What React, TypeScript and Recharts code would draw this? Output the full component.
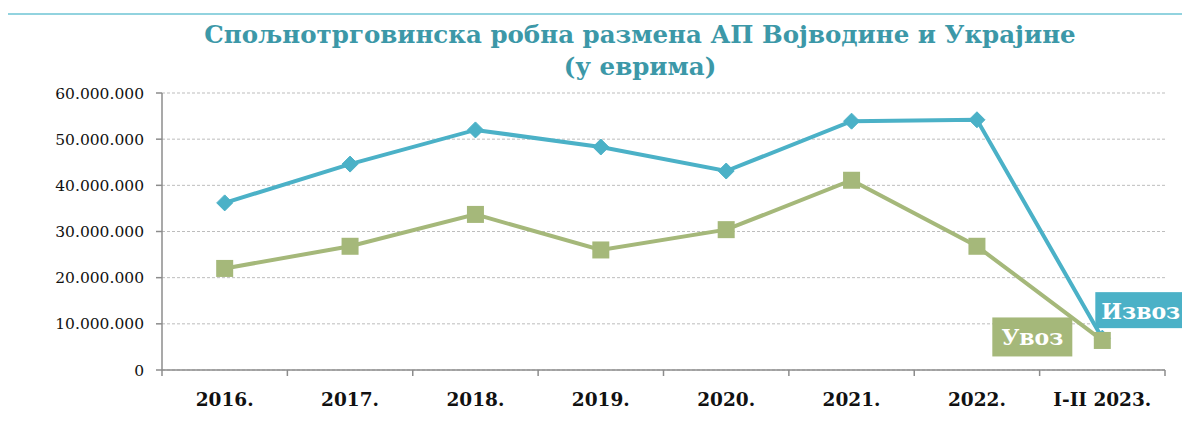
import React from "react";
import { ComposedChart, Line, XAxis, YAxis, CartesianGrid, LabelList } from "recharts";

const categories = ["2016.", "2017.", "2018.", "2019.", "2020.", "2021.", "2022.", "I-II 2023."];
const izvoz = [36200000, 44600000, 52000000, 48300000, 43100000, 53900000, 54200000, 6900000];
const uvoz = [22000000, 26800000, 33700000, 26000000, 30400000, 41100000, 26800000, 6400000];
const yTicks = [0, 10000000, 20000000, 30000000, 40000000, 50000000, 60000000];
const titleLine1 = "Спољнотрговинска робна размена АП Војводине и Украјине";
const titleLine2 = "(у еврима)";
const izvozName = "Извоз";
const uvozName = "Увоз";

const data = categories.map((c, i) => ({ cat: c, izvoz: izvoz[i], uvoz: uvoz[i] }));

const BLUE = "#4BB1C7";
const GREEN = "#A5B87A";
const FONT = "'DejaVu Serif', 'Liberation Serif', serif";

function fmt(v: number): string {
  return String(Math.round(v)).replace(/\B(?=(\d{3})+(?!\d))/g, ".");
}

const Diamond = (props: any) => {
  const { cx, cy } = props;
  if (cx == null || cy == null) return null;
  const r = 8;
  return <path d={`M${cx},${cy - r}L${cx + r},${cy}L${cx},${cy + r}L${cx - r},${cy}Z`} fill={BLUE} stroke={BLUE} strokeWidth={1} />;
};

const Square = (props: any) => {
  const { cx, cy } = props;
  if (cx == null || cy == null) return null;
  const s = 17;
  return <rect x={cx - s / 2} y={cy - s / 2} width={s} height={s} fill={GREEN} />;
};

const XTick = (props: any) => {
  const { x, y, payload, index, visibleTicksCount } = props;
  const half = payload && payload.offset ? payload.offset : 62.7;
  const last = index === (visibleTicksCount ?? categories.length) - 1;
  return (
    <g>
      <line x1={x - half} x2={x - half} y1={y - 8} y2={y - 2} stroke="#8C8C8C" strokeWidth={1.5} />
      {last && <line x1={x + half} x2={x + half} y1={y - 8} y2={y - 2} stroke="#8C8C8C" strokeWidth={1.5} />}
      <text x={x} y={y + 28} textAnchor="middle" fontFamily={FONT} fontWeight="bold" fontSize={18.5} fill="#111">
        {payload.value}
      </text>
    </g>
  );
};

const makeLabel = (kind: "izvoz" | "uvoz") => (props: any) => {
  const { x, y, index } = props;
  if (index !== categories.length - 1) return null;
  if (kind === "izvoz") {
    const bx = x - 7;
    const by = y - 46;
    return (
      <g>
        <rect x={bx} y={by} width={100} height={36} fill={BLUE} />
        <text x={bx + 6} y={by + 27} fontFamily={FONT} fontWeight="bold" fontSize={22} fill="#fff">{izvozName}</text>
      </g>
    );
  }
  const bx = x - 110;
  const by = y - 23;
  return (
    <g>
      <rect x={bx} y={by} width={80} height={39} fill={GREEN} />
      <text x={bx + 40} y={by + 28} textAnchor="middle" fontFamily={FONT} fontWeight="bold" fontSize={22} fill="#fff">{uvozName}</text>
    </g>
  );
};

export default function App() {
  return (
    <div style={{ position: "absolute", left: 0, top: 0, width: 1182, height: 424, background: "#fff", overflow: "hidden" }}>
      <div style={{ position: "absolute", left: 8, top: 13, width: 1174, height: 2, background: "#92D3DF" }} />
      <div
        style={{
          position: "absolute",
          left: 0,
          top: 19,
          width: 1280,
          textAlign: "center",
          fontFamily: FONT,
          fontWeight: "bold",
          fontSize: 24.5,
          lineHeight: "32px",
          color: "#3C98A8",
        }}
      >
        <div>{titleLine1}</div>
        <div>{titleLine2}</div>
      </div>
      <div style={{ position: "absolute", left: 0, top: 0 }}>
        <ComposedChart width={1182} height={424} data={data} margin={{ top: 93, right: 17, bottom: 0, left: 0 }}>
          <CartesianGrid vertical={false} stroke="#BDBDBD" strokeDasharray="3 2" />
          <XAxis
            dataKey="cat"
            scale="band"
            interval={0}
            tickLine={false}
            axisLine={{ stroke: "#8C8C8C", strokeWidth: 1.5 }}
            tick={<XTick />}
            height={54}
          />
          <YAxis
            width={162}
            domain={[0, 60000000]}
            ticks={yTicks}
            tickFormatter={fmt}
            axisLine={{ stroke: "#8C8C8C", strokeWidth: 1.5 }}
            tickLine={{ stroke: "#8C8C8C", strokeWidth: 1.5 }}
            tickSize={6}
            tickMargin={12}
            tick={{ fontFamily: FONT, fontSize: 15.5, fill: "#111" }}
          />
          <Line dataKey="izvoz" stroke={BLUE} strokeWidth={4} dot={<Diamond />} isAnimationActive={false}>
            <LabelList dataKey="izvoz" content={makeLabel("izvoz")} />
          </Line>
          <Line dataKey="uvoz" stroke={GREEN} strokeWidth={4} dot={<Square />} isAnimationActive={false}>
            <LabelList dataKey="uvoz" content={makeLabel("uvoz")} />
          </Line>
        </ComposedChart>
      </div>
    </div>
  );
}
